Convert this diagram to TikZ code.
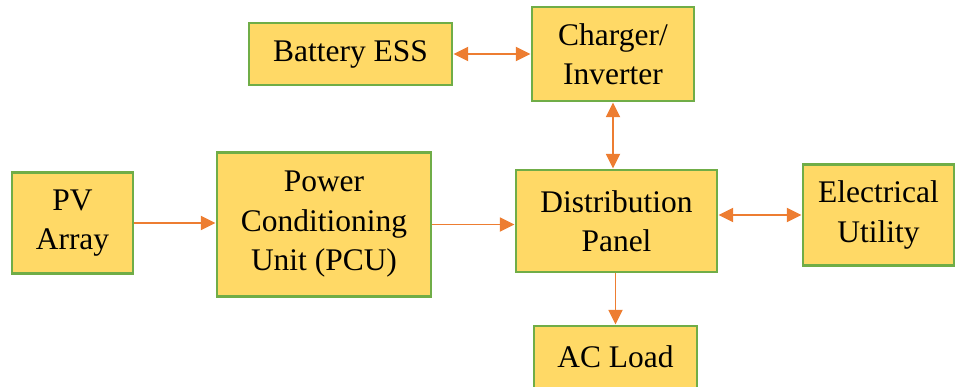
\documentclass[tikz,border=0pt]{standalone}
\usepackage{fontspec}
\setmainfont{Liberation Serif}
\usetikzlibrary{arrows.meta}
\definecolor{boxfill}{HTML}{FFD966}
\definecolor{boxline}{HTML}{70AD47}
\definecolor{arr}{HTML}{ED7D31}
\begin{document}
\begin{tikzpicture}[x=0.75pt,y=-0.75pt,
  blk/.style={draw=boxline, fill=boxfill, line width=2.2pt, inner sep=0pt,
    align=center, font=\fontsize{23.6}{29.6}\selectfont},
  con/.style={draw=arr, line width=1.4pt},
  tipend/.style={-{Triangle[length=11pt,width=10.5pt]}},
  tipboth/.style={{Triangle[length=11pt,width=10.5pt]}-{Triangle[length=11pt,width=10.5pt]}}]
\useasboundingbox (0,0) rectangle (961,386);
\node[blk, minimum width=203*0.75pt, minimum height=62*0.75pt] (bat) at (350.5,54) {Battery ESS};
\node[blk, minimum width=162*0.75pt, minimum height=94*0.75pt] (chg) at (613,54) {Charger/\\Inverter};
\node[blk, minimum width=121*0.75pt, minimum height=101*0.75pt] (pv) at (72.5,223) {PV\\Array};
\node[blk, minimum width=214*0.75pt, minimum height=144*0.75pt] (pcu) at (324,224.5) {Power\\Conditioning\\Unit (PCU)};
\node[blk, minimum width=201*0.75pt, minimum height=102*0.75pt] (dist) at (616.5,221) {Distribution\\Panel};
\node[blk, minimum width=151*0.75pt, minimum height=101*0.75pt] (util) at (878.5,215) {Electrical\\Utility};
\node[blk, minimum width=163*0.75pt, minimum height=62*0.75pt] (ac) at (615.5,357) {AC Load};
\draw[con, tipboth] (bat.east) -- (chg.west |- bat.east);
\draw[con, tipboth] (chg.south) -- (chg.south |- dist.north);
\draw[con, tipend] (pv.east) -- (pcu.west |- pv.east);
\draw[con, tipend] (pcu.east) -- (dist.west |- pcu.east);
\draw[con, tipboth] (dist.east |- util.west) -- (util.west);
\draw[con, tipend] (ac.north |- dist.south) -- (ac.north);
\end{tikzpicture}
\end{document}
